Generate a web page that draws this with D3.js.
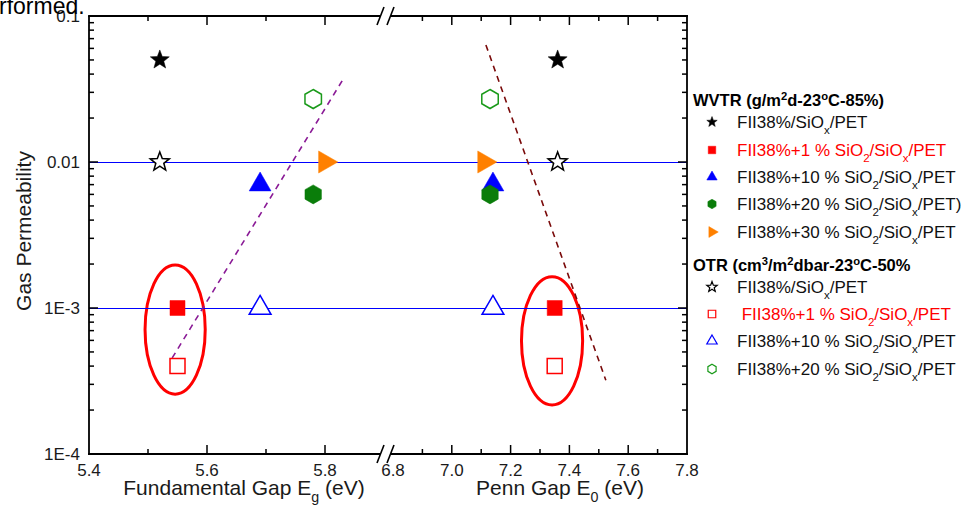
<!DOCTYPE html>
<html><head><meta charset="utf-8">
<script src="https://cdn.jsdelivr.net/npm/d3@7"></script>
<style>body{margin:0;background:#fff} text{font-family:"Liberation Sans",Arial,sans-serif}</style>
</head><body><svg id="c" width="975" height="511"></svg>
<script>
// ---------- data ----------
const seriesLabels = [
  "FII38%/SiO_{x}/PET",
  "FII38%+1 % SiO_{2}/SiO_{x}/PET",
  "FII38%+10 % SiO_{2}/SiO_{x}/PET",
  "FII38%+20 % SiO_{2}/SiO_{x}/PET)",
  "FII38%+30 % SiO_{2}/SiO_{x}/PET",
  "FII38%/SiO_{x}/PET",
  " FII38%+1 % SiO_{2}/SiO_{x}/PET",
  "FII38%+10 % SiO_{2}/SiO_{x}/PET",
  "FII38%+20 % SiO_{2}/SiO_{x}/PET"
];
const seriesGroup = [0,0,0,0,0,1,1,1,1];
const groupTitles = ["WVTR (g/m^{2}d-23^{o}C-85%)", "OTR (cm^{3}/m^{2}dbar-23^{o}C-50%"];
const egValues = [5.52, 5.55, 5.69, 5.78, 5.80, 5.52, 5.55, 5.69, 5.78];
const e0Values = [7.36, 7.35, 7.14, 7.13, 7.11, 7.36, 7.35, 7.14, 7.13];
const permeability = [0.05, 0.001, 0.007, 0.006, 0.01, 0.01, 0.0004, 0.001, 0.027];
const refLevels = [0.01, 0.001];
const egFitX = [5.541, 5.832], egFitY = [4.55e-4, 0.0376];
const e0FitX = [7.116, 7.524], e0FitY = [0.0633, 3.2e-4];
const egHighlight = [5.546, 0.051, 1.97e-3, 2.57e-4];   // center, half-width (eV), top, bottom
const e0Highlight = [7.341, 0.104, 1.64e-3, 2.17e-4];
const egTicks = [5.5, 5.6, 5.7, 5.8];
const egTickLabels = [5.4, 5.6, 5.8];
const e0Ticks = [6.9, 7.0, 7.1, 7.2, 7.3, 7.4, 7.5, 7.6, 7.7];
const e0TickLabels = [6.8, 7.0, 7.2, 7.4, 7.6, 7.8];
const yTickValues = [0.1, 0.01, 0.001, 0.0001];
const yTickLabels = ["0.1", "0.01", "1E-3", "1E-4"];

// ---------- styles ----------
const shapes = ["star","square","triUp","hex","triRight","star","square","triUp","hex"];
const colors = ["#000","#ff0000","#0000ff","#0a7d0a","#ff8000","#000","#ff0000","#0000ff","#1a9a1a"];
const filled = [true,true,true,true,true,false,false,false,false];
const textColors = ["#111","#ff0000","#111","#111","#111","#111","#ff0000","#111","#111"];

const svg = d3.select("#c");
const L = 89, R = 687, T = 16, B = 454;
const xL = d3.scaleLinear().domain([5.4, 5.9]).range([89, 384]);
const xR = d3.scaleLinear().domain([6.8, 7.8]).range([393, 687]);
const y = d3.scaleLog().domain([1e-4, 0.1]).range([B, T]);

function shapePath(kind, s) {
  const pts = [];
  if (kind === "star") {
    const ro = s, ri = s * 0.42;
    for (let i = 0; i < 10; i++) {
      const a = -Math.PI/2 + i*Math.PI/5, r = i%2 ? ri : ro;
      pts.push([r*Math.cos(a), r*Math.sin(a)]);
    }
  } else if (kind === "square") {
    const h = s*0.75; pts.push([-h,-h],[h,-h],[h,h],[-h,h]);
  } else if (kind === "triUp") {
    for (let i = 0; i < 3; i++) { const a = -Math.PI/2 + i*2*Math.PI/3; pts.push([s*1.2*Math.cos(a), s*1.2*Math.sin(a)]); }
  } else if (kind === "triRight") {
    for (let i = 0; i < 3; i++) { const a = i*2*Math.PI/3; pts.push([s*1.25*Math.cos(a), s*1.25*Math.sin(a)]); }
  } else if (kind === "hex") {
    for (let i = 0; i < 6; i++) { const a = -Math.PI/2 + i*Math.PI/3; pts.push([s*0.95*Math.cos(a), s*0.95*Math.sin(a)]); }
  }
  return "M" + pts.map(p => p[0].toFixed(2)+","+p[1].toFixed(2)).join("L") + "Z";
}

function rich(sel, str, fs) {
  const re = /([_^])\{([^}]*)\}/g; let last = 0, m; const parts = [];
  while ((m = re.exec(str))) {
    if (m.index > last) parts.push({t: str.slice(last, m.index), k: null});
    parts.push({t: m[2], k: m[1]}); last = re.lastIndex;
  }
  if (last < str.length) parts.push({t: str.slice(last), k: null});
  let cur = 0;
  parts.forEach(p => {
    const target = p.k === "_" ? fs*0.33 : p.k === "^" ? -fs*0.38 : 0;
    const ts = sel.append("tspan").text(p.t);
    if (p.k) ts.attr("font-size", fs*0.68);
    if (target - cur) ts.attr("dy", target - cur);
    cur = target;
  });
}

// highlight ellipses (behind)
[[egHighlight, xL], [e0Highlight, xR]].forEach(([h, xs]) => {
  const cx = xs(h[0]), rx = xs(h[0] + h[1]) - xs(h[0]);
  const yt = y(h[2]), yb = y(h[3]);
  svg.append("ellipse").attr("cx", cx).attr("cy", (yt+yb)/2).attr("rx", rx).attr("ry", (yb-yt)/2)
    .attr("fill", "none").attr("stroke", "#ff0000").attr("stroke-width", 3);
});

// reference lines
refLevels.forEach(v => {
  svg.append("line").attr("x1", L).attr("x2", R).attr("y1", Math.round(y(v)) + 0.5).attr("y2", Math.round(y(v)) + 0.5)
    .attr("stroke", "#0000ff").attr("stroke-width", 1);
});

// fit lines
svg.append("line").attr("x1", xL(egFitX[0])).attr("y1", y(egFitY[0])).attr("x2", xL(egFitX[1])).attr("y2", y(egFitY[1]))
  .attr("stroke", "#8a1a96").attr("stroke-width", 1.6).attr("stroke-dasharray", "6,5");
svg.append("line").attr("x1", xR(e0FitX[0])).attr("y1", y(e0FitY[0])).attr("x2", xR(e0FitX[1])).attr("y2", y(e0FitY[1]))
  .attr("stroke", "#7a0a0a").attr("stroke-width", 1.6).attr("stroke-dasharray", "6,5");

// points
const size = {star: 10, square: 10, triUp: 10.5, hex: 10, triRight: 10.2};
permeability.forEach((v, i) => {
  [[egValues[i], xL], [e0Values[i], xR]].forEach(([xv, xs]) => {
    svg.append("path").attr("d", shapePath(shapes[i], size[shapes[i]]))
      .attr("transform", `translate(${xs(xv)},${y(v)})`)
      .attr("fill", filled[i] ? colors[i] : "#fff")
      .attr("stroke", colors[i]).attr("stroke-width", filled[i] ? 0.5 : 1.5);
  });
});

// axes frame
const ax = svg.append("g").attr("stroke", "#000").attr("stroke-width", 1.8).attr("fill", "none");
ax.append("line").attr("x1", L).attr("x2", L).attr("y1", T).attr("y2", B+0.9);
ax.append("line").attr("x1", R).attr("x2", R).attr("y1", T-0.9).attr("y2", B+0.9);
[T, B].forEach(yy => {
  ax.append("line").attr("x1", L-0.9).attr("x2", 380).attr("y1", yy).attr("y2", yy);
  ax.append("line").attr("x1", 391).attr("x2", R+0.9).attr("y1", yy).attr("y2", yy);
  ax.append("line").attr("x1", 377).attr("y1", yy+9).attr("x2", 384).attr("y2", yy-9).attr("stroke-width", 1.6);
  ax.append("line").attr("x1", 387).attr("y1", yy+9).attr("x2", 394).attr("y2", yy-9).attr("stroke-width", 1.6);
});

// x ticks
const tk = svg.append("g").attr("stroke", "#000").attr("stroke-width", 1.5);
function xTick(px, major) {
  const len = major ? 9 : 5;
  tk.append("line").attr("x1", px).attr("x2", px).attr("y1", B).attr("y2", B - len);
  tk.append("line").attr("x1", px).attr("x2", px).attr("y1", T).attr("y2", T + len);
}
egTicks.forEach(v => xTick(xL(v), egTickLabels.includes(v)));
e0Ticks.forEach(v => xTick(xR(v), e0TickLabels.some(l => Math.abs(l - v) < 1e-6)));

// y ticks
function yTick(py, major) {
  const len = major ? 9 : 5;
  tk.append("line").attr("x1", L).attr("x2", L + len).attr("y1", py).attr("y2", py);
  tk.append("line").attr("x1", R).attr("x2", R - len).attr("y1", py).attr("y2", py);
}
yTickValues.forEach(v => { if (v < 0.1 && v > 1e-4) yTick(y(v), true); });
[1e-4, 1e-3, 1e-2].forEach(d => { for (let k = 2; k <= 9; k++) yTick(y(k*d), false); });

// tick labels
const tl = svg.append("g").attr("font-size", 17).attr("fill", "#1a1a1a");
egTickLabels.forEach(v => tl.append("text").attr("x", xL(v)).attr("y", 476).attr("text-anchor", "middle").text(v.toFixed(1)));
e0TickLabels.forEach(v => tl.append("text").attr("x", xR(v)).attr("y", 476).attr("text-anchor", "middle").text(v.toFixed(1)));
yTickValues.forEach((v, i) => tl.append("text").attr("x", 80).attr("y", y(v) + 6).attr("text-anchor", "end").text(yTickLabels[i]));

// axis titles
const t1 = svg.append("text").attr("x", 244).attr("y", 495).attr("text-anchor", "middle").attr("font-size", 21).attr("fill", "#1a1a1a");
rich(t1, "Fundamental Gap E_{g} (eV)", 21);
const t2 = svg.append("text").attr("x", 560).attr("y", 495).attr("text-anchor", "middle").attr("font-size", 21).attr("fill", "#1a1a1a");
rich(t2, "Penn Gap E_{0} (eV)", 21);
svg.append("text").attr("transform", "translate(31,231) rotate(-90)").attr("text-anchor", "middle")
  .attr("font-size", 21).attr("fill", "#1a1a1a").text("Gas Permeability");

// cut-off page text
svg.append("text").attr("x", -1).attr("y", 14).attr("font-size", 23).attr("fill", "#000").text("rformed.");

// legend
const headerY = [106, 271];
const rowY = [128, 156, 183, 210, 238, 293, 320, 347, 375];
groupTitles.forEach((g, gi) => {
  const t = svg.append("text").attr("x", 693).attr("y", headerY[gi]).attr("font-size", 16.5)
    .attr("font-weight", "bold").attr("fill", "#000");
  rich(t, g, 16.5);
});
seriesLabels.forEach((lab, i) => {
  svg.append("path").attr("d", shapePath(shapes[i], shapes[i] === "star" ? 5.5 : 5))
    .attr("transform", `translate(712,${rowY[i] - 6})`)
    .attr("fill", filled[i] ? colors[i] : "#fff")
    .attr("stroke", colors[i]).attr("stroke-width", filled[i] ? 0.5 : 1.2);
  const t = svg.append("text").attr("x", 737).attr("y", rowY[i]).attr("font-size", 17)
    .attr("fill", textColors[i]).style("white-space", "pre");
  rich(t, lab, 17);
});
</script></body></html>
